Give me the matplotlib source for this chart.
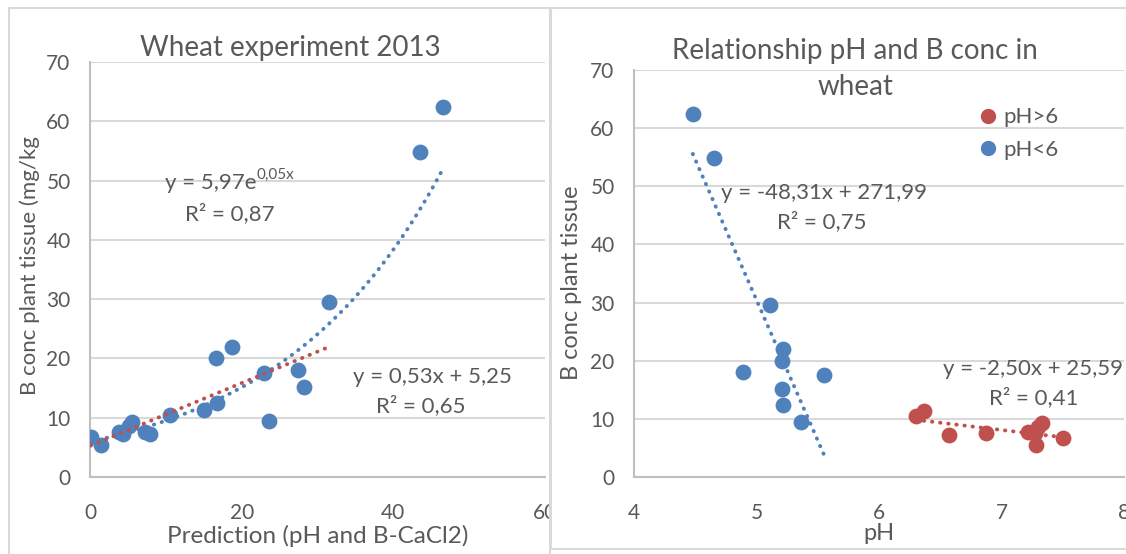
import numpy as np
import matplotlib.pyplot as plt
from matplotlib.lines import Line2D
from matplotlib.patches import Rectangle

plt.rcParams['font.family'] = ['Lato', 'DejaVu Sans']

BLUE = '#4F81BD'
RED = '#C0504D'
TXT = '#595959'
GRID = '#D9D9D9'
AXIS = '#BFBFBF'

# wheat 2013: predicted vs measured B in plant tissue
pred = [46.6, 43.5, 31.5, 18.7, 16.6, 27.4, 23.0, 28.2, 16.7, 15.0,
        10.5, 23.6, 5.5, 5.1, 3.8, 4.3, 7.2, 7.9, 0.1, 1.5]
bconc = [62.4, 54.9, 29.5, 22.0, 20.0, 18.1, 17.5, 15.1, 12.4, 11.3,
         10.5, 9.4, 9.3, 8.6, 7.6, 7.3, 7.6, 7.2, 6.8, 5.4]

# same samples split on soil pH
ph_lo = [4.48, 4.65, 5.11, 5.22, 5.21, 4.89, 5.55, 5.21, 5.22, 5.36]
b_lo = [62.4, 54.9, 29.5, 22.0, 20.0, 18.1, 17.5, 15.1, 12.4, 9.4]
ph_hi = [6.30, 6.37, 6.57, 6.87, 7.22, 7.27, 7.30, 7.33, 7.28, 7.50]
b_hi = [10.5, 11.3, 7.2, 7.5, 7.7, 7.6, 8.6, 9.3, 5.5, 6.7]

# trendline coefficients (excel)
exp_a, exp_b = 5.97, 0.0465
lin_a, lin_b = 0.53, 5.25
lin_xmax = 31.5
lo_a, lo_b = -48.31, 271.99
hi_a, hi_b = -2.50, 25.59

W, H = 1126, 554
dots = dict(linestyle=(0, (0.1, 2.0)), linewidth=2.8, dash_capstyle='round', zorder=4)

fig = plt.figure(figsize=(W / 100, H / 100), dpi=100)

# chart frames, the right one is filled so it sits on top of the left chart
fig.patches.append(Rectangle((9 / W, -0.1), 541 / W, 1.1 - 8 / H, transform=fig.transFigure,
                             fill=False, edgecolor=GRID, linewidth=1.5, zorder=1))
fig.patches.append(Rectangle((551 / W, 1 - 549 / H), 0.6, 541 / H, transform=fig.transFigure,
                             facecolor='white', edgecolor=GRID, linewidth=1.5, zorder=1))


def style(ax, xlim, xticks):
    ax.set_xlim(*xlim)
    ax.set_ylim(0, 70)
    ax.set_xticks(xticks)
    ax.set_yticks(range(0, 71, 10))
    ax.grid(axis='y', color=GRID, linewidth=1.5)
    ax.set_axisbelow(True)
    for s in ['top', 'right']:
        ax.spines[s].set_visible(False)
    for s in ['left', 'bottom']:
        ax.spines[s].set_color(AXIS)
        ax.spines[s].set_linewidth(1.5)
    ax.tick_params(length=0, labelsize=15, labelcolor=TXT)
    ax.tick_params(axis='y', pad=14)
    ax.tick_params(axis='x', pad=19)
    ax.patch.set_alpha(0)


# left chart
ax1 = fig.add_axes([90 / W, 1 - 477 / H, 455 / W, 415 / H])
ax1.set_zorder(0)
style(ax1, (0, 60), [0, 20, 40, 60])
ax1.scatter(pred, bconc, s=130, color=BLUE, zorder=3, linewidths=0)
px = np.array(pred)
xx = np.linspace(px.min(), px.max(), 200)
ax1.plot(xx, exp_a * np.exp(exp_b * xx), color=BLUE, **dots)
xl = np.linspace(px.min(), lin_xmax, 100)
ax1.plot(xl, lin_a * xl + lin_b, color=RED, **dots)

t = ax1.text(21.9, 49.6, 'y = 5,97e', ha='right', va='center', fontsize=16, color=TXT)
ax1.annotate('0,05x', xy=(1, 0.55), xycoords=t, va='bottom', fontsize=11, color=TXT)
ax1.text(18.5, 44.5, 'R² = 0,87', ha='center', va='center', fontsize=16, color=TXT)
ax1.text(45.2, 16.9, 'y = 0,53x + 5,25', ha='center', va='center', fontsize=16, color=TXT)
ax1.text(43.6, 12.1, 'R² = 0,65', ha='center', va='center', fontsize=16, color=TXT)

fig.text(290 / W, 1 - 48 / H, 'Wheat experiment 2013', ha='center', va='center',
         fontsize=20, color=TXT)
fig.text(30 / W, 1 - 266 / H, 'B conc plant tissue (mg/kg', rotation=90, ha='center',
         va='center', fontsize=16, color=TXT)
fig.text(318 / W, 1 - 536 / H, 'Prediction (pH and B-CaCl2)', ha='center', va='center',
         fontsize=17.5, color=TXT)

# right chart
ax2 = fig.add_axes([634 / W, 1 - 477 / H, 490 / W, 407 / H])
ax2.set_zorder(2)
style(ax2, (4, 8), [4, 5, 6, 7, 8])
ax2.scatter(ph_hi, b_hi, s=130, color=RED, zorder=3, linewidths=0)
ax2.scatter(ph_lo, b_lo, s=130, color=BLUE, zorder=3, linewidths=0)
x_lo = np.linspace(min(ph_lo), max(ph_lo), 100)
ax2.plot(x_lo, lo_a * x_lo + lo_b, color=BLUE, **dots)
x_hi = np.linspace(min(ph_hi), max(ph_hi), 100)
ax2.plot(x_hi, hi_a * x_hi + hi_b, color=RED, **dots)

ax2.text(5.55, 48.9, 'y = -48,31x + 271,99', ha='center', va='center', fontsize=16, color=TXT)
ax2.text(5.53, 43.9, 'R² = 0,75', ha='center', va='center', fontsize=16, color=TXT)
ax2.text(7.26, 18.5, 'y = -2,50x + 25,59', ha='center', va='center', fontsize=16, color=TXT)
ax2.text(7.26, 13.7, 'R² = 0,41', ha='center', va='center', fontsize=16, color=TXT)

handles = [Line2D([], [], marker='o', linestyle='', color=RED, markersize=10, label='pH>6'),
           Line2D([], [], marker='o', linestyle='', color=BLUE, markersize=10, label='pH<6')]
ax2.legend(handles=handles, loc='upper left', bbox_to_anchor=(0.678, 0.93), frameon=False,
           fontsize=16, labelcolor=TXT, handletextpad=0.05, labelspacing=0.55,
           handlelength=1.2, borderaxespad=0)

fig.text(855 / W, 1 - 69 / H, 'Relationship pH and B conc in\nwheat', ha='center',
         va='center', fontsize=20, color=TXT, linespacing=1.45, zorder=5)
fig.text(572 / W, 1 - 283 / H, 'B conc plant tissue', rotation=90, ha='center',
         va='center', fontsize=17, color=TXT, zorder=5)
fig.text(879 / W, 1 - 533 / H, 'pH', ha='center', va='center', fontsize=17, color=TXT,
         zorder=5)

fig.savefig('out.png', dpi=100, facecolor='white')
